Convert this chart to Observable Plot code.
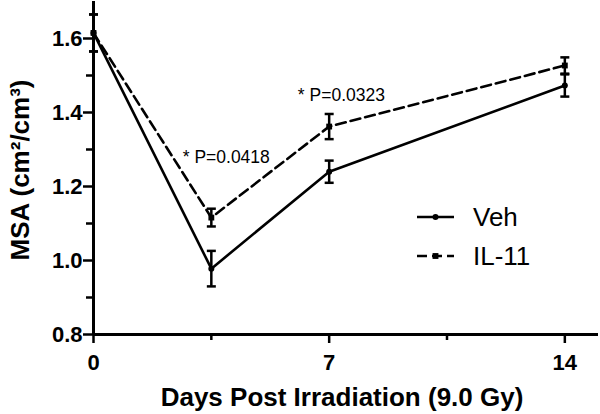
<!DOCTYPE html>
<html><head><meta charset="utf-8">
<script src="https://cdn.jsdelivr.net/npm/d3@7"></script>
<script src="https://cdn.jsdelivr.net/npm/@observablehq/plot@0.6"></script>
<style>
body{margin:0;background:#fff;}
#chart svg{font-family:"Liberation Sans",Arial,Helvetica,sans-serif;background:#fff;}
</style></head><body><div id="chart"></div>
<script>
// ---- data ----
const days = [0, 3.5, 7, 14];
const vehMean = [1.615, 0.978, 1.240, 1.473];
const vehErr  = [0.050, 0.048, 0.030, 0.030];
const il11Mean = [1.615, 1.116, 1.362, 1.527];
const il11Err  = [0.050, 0.024, 0.034, 0.022];
const seriesNames = ["Veh", "IL-11"];

const xTicks = [0, 7, 14];
const xMinorTicks = [3.5, 10.5];
const yTicks = [0.8, 1.0, 1.2, 1.4, 1.6];
const yMinorTicks = [0.9, 1.1, 1.3, 1.5];

const annText = ["* P=0.0418", "* P=0.0323"];
const annDay = [2.65, 6.07];
const annVal = [1.28, 1.447];

const xTitle = "Days Post Irradiation (9.0 Gy)";
const yTitle = "MSA (cm\u00B2/cm\u00B3)";

// ---- build table ----
const rows = days.flatMap((d, i) => [
  {series: seriesNames[0], day: d, mean: vehMean[i], err: vehErr[i]},
  {series: seriesNames[1], day: d, mean: il11Mean[i], err: il11Err[i]}
]);
const veh = rows.filter(r => r.series === "Veh");
const il = rows.filter(r => r.series === "IL-11");
const ann = annText.map((t, i) => ({t, x: annDay[i], y: annVal[i]}));

const cap = {draw(ctx, size) { const w = Math.sqrt(size / Math.PI); ctx.moveTo(-w, 0); ctx.lineTo(w, 0); }};

const chart = Plot.plot({
  width: 600, height: 414,
  marginLeft: 93, marginRight: 2, marginTop: 1, marginBottom: 80,
  x: {domain: [0, 15], axis: null},
  y: {domain: [0.8, 1.7], axis: null},
  marks: [
    Plot.axisY({ticks: yTicks, tickSize: 10, tickPadding: 1, tickFormat: d3.format(".1f"), strokeWidth: 2.5, label: null}),
    Plot.axisY({ticks: yMinorTicks, tickSize: 7, tickFormat: () => "", strokeWidth: 2.5, label: null}),
    Plot.axisX({ticks: xTicks, tickSize: 9, tickPadding: 11, tickFormat: d3.format("d"), strokeWidth: 2.5, label: null}),
    Plot.axisX({ticks: xMinorTicks, tickSize: 6, tickFormat: () => "", strokeWidth: 2.5, label: null}),
    Plot.ruleX([0], {stroke: "black", strokeWidth: 3}),
    Plot.ruleY([0.8], {stroke: "black", strokeWidth: 3}),
    Plot.text([xTitle], {frameAnchor: "bottom", dy: 63, dx: -4, textAnchor: "middle", lineAnchor: "middle", fontSize: 26, fontWeight: "bold"}),
    Plot.text([yTitle], {frameAnchor: "left", dx: -73, dy: 2, rotate: -90, textAnchor: "middle", lineAnchor: "middle", fontSize: 26, fontWeight: "bold"}),
    // error bars
    Plot.ruleX(rows, {x: "day", y1: d => d.mean - d.err, y2: d => d.mean + d.err, stroke: "black", strokeWidth: 2.5}),
    Plot.dot(rows, {x: "day", y: d => d.mean - d.err, symbol: cap, r: 4.5, stroke: "black", strokeWidth: 2.5, fill: "none"}),
    Plot.dot(rows, {x: "day", y: d => d.mean + d.err, symbol: cap, r: 4.5, stroke: "black", strokeWidth: 2.5, fill: "none"}),
    // lines
    Plot.line(veh, {x: "day", y: "mean", stroke: "black", strokeWidth: 2.6}),
    Plot.line(il, {x: "day", y: "mean", stroke: "black", strokeWidth: 2.6, strokeDasharray: "10,5"}),
    Plot.dot(veh, {x: "day", y: "mean", symbol: "circle", r: 3, fill: "black"}),
    Plot.dot(il, {x: "day", y: "mean", symbol: "square", r: 3.3, fill: "black"}),
    // annotations
    Plot.text(ann, {x: "x", y: "y", text: "t", textAnchor: "start", lineAnchor: "middle", fontSize: 17.5})
  ]
});
document.getElementById("chart").appendChild(chart);

const svg = d3.select(chart);
svg.selectAll("g[aria-label*='axis'] text")
  .style("font-size", "22px").style("font-weight", "bold").style("fill", "black");

// legend inside plot area
const lg = svg.append("g").attr("class", "legend").attr("text-anchor", "start");
const legendRows = [
  {name: seriesNames[0], dash: null, sym: d3.symbolCircle, size: Math.PI * 9, y: 217},
  {name: seriesNames[1], dash: "10,5", sym: d3.symbolSquare, size: Math.PI * 10.9, y: 256}
];
legendRows.forEach(r => {
  lg.append("line").attr("x1", 417).attr("x2", 454).attr("y1", r.y).attr("y2", r.y)
    .attr("stroke", "black").attr("stroke-width", 2.6).attr("stroke-dasharray", r.dash);
  lg.append("path").attr("d", d3.symbol(r.sym, r.size)()).attr("transform", `translate(435.5,${r.y})`).attr("fill", "black");
  lg.append("text").attr("x", 473).attr("y", r.y).attr("dy", "0.35em").attr("font-size", 26)
    .attr("text-anchor", "start").attr("fill", "black").text(r.name);
});
</script>
</body></html>
